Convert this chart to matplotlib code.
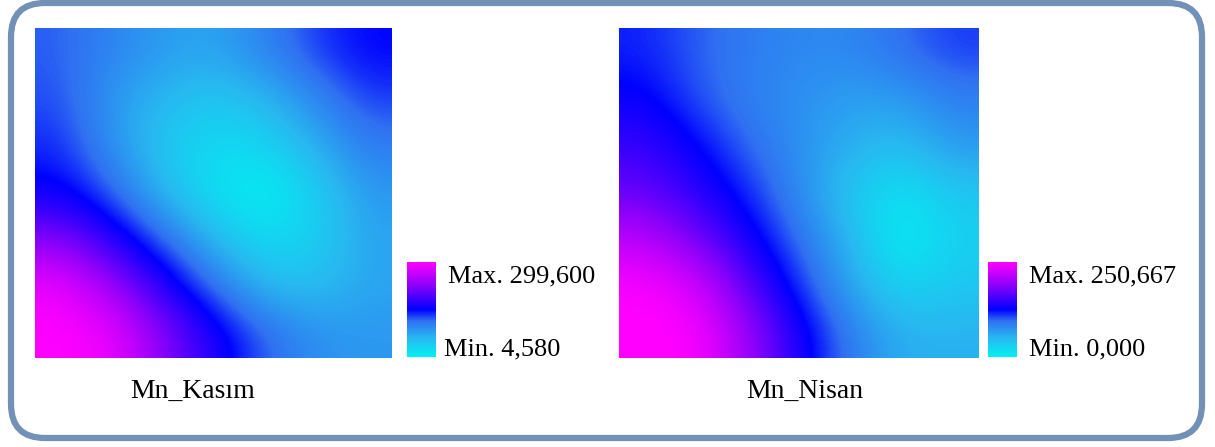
import numpy as np
import matplotlib
matplotlib.use('Agg')
import matplotlib.pyplot as plt
from matplotlib.colors import LinearSegmentedColormap
from matplotlib.patches import FancyBboxPatch

# grid values (rows top -> bottom, cols left -> right)
kasim_grid = np.array([
    [122.6, 101.9,  84.2,  78.3, 102.0, 134.0, 152.1],
    [128.5,  87.2,  63.6,  48.8,  63.6,  99.0, 134.0],
    [140.3,  93.1,  48.8,  28.2,  34.1,  69.5, 108.0],
    [158.0, 122.6,  63.6,  22.3,   4.58, 40.0,  87.2],
    [225.8, 175.7, 122.6,  63.6,  28.2,  40.0,  78.3],
    [290.8, 240.6, 175.7, 116.7,  63.6,  57.7,  78.3],
    [299.6, 290.8, 225.8, 169.8, 122.6,  93.1,  87.2],
])
nisan_grid = np.array([
    [117.0, 100.3,  87.7,  80.2,  80.2,  95.3, 110.3],
    [130.0, 104.0,  85.2,  75.2,  65.2,  67.7,  85.2],
    [150.4, 127.0,  97.0,  75.2,  55.1,  45.1,  70.2],
    [172.0, 145.0, 116.0,  78.0,  37.6,  12.5,  37.6],
    [215.0, 180.0, 135.4,  95.3,  50.1,   0.0,  30.1],
    [250.667, 232.0, 168.0, 112.8,  62.7,  25.1,  37.6],
    [250.667, 250.667, 200.0, 137.9,  87.7,  55.1,  55.1],
])
titles = ['Mn_Kasım', 'Mn_Nisan']
max_labels = ['Max. 299,600', 'Max. 250,667']
min_labels = ['Min. 4,580', 'Min. 0,000']

cmap = LinearSegmentedColormap.from_list('mn', [
    (0.0, '#00F2F2'), (0.2, '#28B8F0'), (0.38, '#3070F2'),
    (0.5, '#0000FF'), (0.75, '#8A00FA'), (1.0, '#FF00FF')])

W, H = 1215, 447
fig = plt.figure(figsize=(W / 100, H / 100), dpi=100)
plt.rcParams['font.family'] = 'Liberation Serif'

def px_axes(x0, y0, x1, y1):
    return fig.add_axes([x0 / W, 1 - y1 / H, (x1 - x0) / W, (y1 - y0) / H])

# overlay in pixel coordinates for frame and text
bg = fig.add_axes([0, 0, 1, 1])
bg.set_xlim(0, W)
bg.set_ylim(H, 0)
bg.axis('off')
bg.add_patch(FancyBboxPatch((11, 3), 1191, 435, boxstyle='round,pad=0,rounding_size=34',
                            fill=False, edgecolor='#7391B6', linewidth=4.5))

maps = [kasim_grid, nisan_grid]
map_x = [(35, 392), (619, 978)]
cbar_x = [(407, 436), (988, 1017)]
label_x = [(448, 444), (1029, 1029)]
title_x = [193, 805]

for i in range(2):
    ax = px_axes(map_x[i][0], 28, map_x[i][1], 358)
    im = ax.imshow(maps[i], cmap=cmap, interpolation='bicubic', aspect='auto',
                   vmin=maps[i].min(), vmax=maps[i].max())
    ax.axis('off')
    cax = px_axes(cbar_x[i][0], 262, cbar_x[i][1], 357)
    cb = fig.colorbar(im, cax=cax)
    cb.set_ticks([])
    cb.outline.set_visible(False)
    bg.text(label_x[i][0], 282, max_labels[i], fontsize=19, va='baseline', color='black')
    bg.text(label_x[i][1], 355, min_labels[i], fontsize=19, va='baseline', color='black')
    bg.text(title_x[i], 398, titles[i], fontsize=20, va='baseline', ha='center', color='black')

fig.savefig('out.png', dpi=100)
